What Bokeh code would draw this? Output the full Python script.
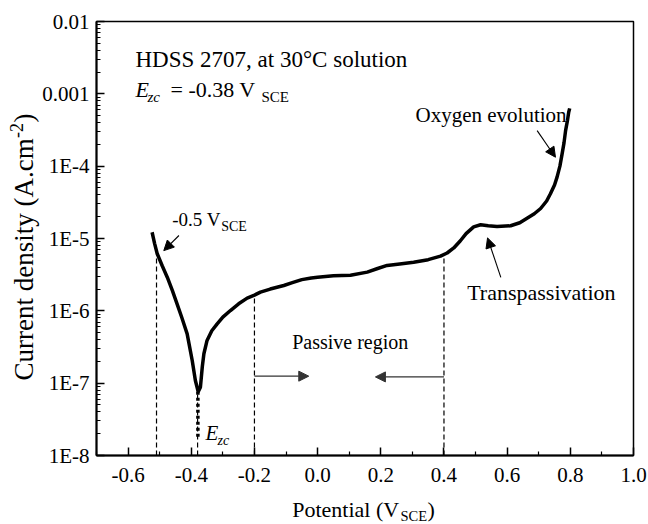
import math
from bokeh.plotting import figure
from bokeh.models import (Range1d, FixedTicker, CustomJSTickFormatter, Label, Arrow, NormalHead,
                          LinearAxis, LogAxis)
from bokeh.embed import file_html
from bokeh.resources import INLINE

# ---------------- data ----------------
potential = [-0.524, -0.516, -0.508, -0.492, -0.476, -0.460, -0.445, -0.430, -0.413, -0.397,
             -0.387, -0.378, -0.371, -0.365, -0.360, -0.350, -0.335, -0.318, -0.300, -0.276,
             -0.250, -0.223, -0.200, -0.181, -0.150, -0.107, -0.080, -0.050, -0.020, 0.000,
             0.050, 0.104, 0.157, 0.190, 0.220, 0.260, 0.304, 0.350, 0.389, 0.410,
             0.431, 0.452, 0.470, 0.494, 0.516, 0.540, 0.568, 0.611, 0.640, 0.663,
             0.686, 0.706, 0.725, 0.737, 0.750, 0.758, 0.767, 0.774, 0.780, 0.785,
             0.791, 0.795, 0.798]
current = [1.22e-5, 8.5e-6, 6.2e-6, 4.2e-6, 2.92e-6, 1.92e-6, 1.25e-6, 8.1e-7, 4.8e-7, 2.06e-7,
           1.09e-7, 7.6e-8, 8.8e-8, 1.7e-7, 2.55e-7, 3.9e-7, 5.3e-7, 6.6e-7, 8.2e-7, 1.01e-6,
           1.25e-6, 1.5e-6, 1.65e-6, 1.81e-6, 2.0e-6, 2.24e-6, 2.45e-6, 2.7e-6, 2.85e-6, 2.92e-6,
           3.05e-6, 3.1e-6, 3.43e-6, 3.85e-6, 4.24e-6, 4.45e-6, 4.7e-6, 5.1e-6, 5.7e-6, 6.3e-6,
           7.4e-6, 9.3e-6, 1.17e-5, 1.45e-5, 1.55e-5, 1.5e-5, 1.46e-5, 1.5e-5, 1.65e-5, 1.9e-5,
           2.2e-5, 2.6e-5, 3.3e-5, 4.15e-5, 5.5e-5, 7.05e-5, 1.0e-4, 1.48e-4, 2.1e-4, 3.1e-4,
           4.3e-4, 5.6e-4, 6.3e-4]

# dotted tail below the corrosion potential
dot_potential = [-0.379, -0.379]
dot_current = [7.6e-8, 1.8e-8]

# dashed guide lines (potential, upper current)
guide_potential = [-0.51, -0.38, -0.20, 0.40]
guide_top = [6.2e-6, 7.6e-8, 1.5e-6, 5.6e-6]
guide_bottom = [1e-8, 1e-8, 1e-8, 1e-8]

x_limits = [-0.7, 1.0]
y_limits = [1e-8, 1e-2]
x_ticks = [-0.6, -0.4, -0.2, 0.0, 0.2, 0.4, 0.6, 0.8, 1.0]
x_tick_labels = ["-0.6", "-0.4", "-0.2", "0.0", "0.2", "0.4", "0.6", "0.8", "1.0"]
x_minor = [-0.7, -0.5, -0.3, -0.1, 0.1, 0.3, 0.5, 0.7, 0.9]
y_ticks = [1e-8, 1e-7, 1e-6, 1e-5, 1e-4, 1e-3, 1e-2]
y_tick_labels = ["1E-8", "1E-7", "1E-6", "1E-5", "1E-4", "0.001", "0.01"]
y_minor = [m * 10.0 ** e for e in range(-8, -2) for m in range(2, 10)]

FONT = "Liberation Serif"

# ---------------- layout (pixels) ----------------
W, H = 648, 524
ML, MR, MT, MB = 96, 15, 21, 69          # margins around the plot box
box_w, box_h = W - ML - MR, H - MT - MB
xs = (x_limits[1] - x_limits[0]) / box_w  # data units per px
ly0, ly1 = math.log10(y_limits[0]), math.log10(y_limits[1])
ls = (ly1 - ly0) / box_h                  # decades per px
x_full = (x_limits[0] - ML * xs, x_limits[1] + MR * xs)
y_full = (10 ** (ly0 - MB * ls), 10 ** (ly1 + MT * ls))

p = figure(width=W, height=H, x_range=Range1d(*x_full), y_range=Range1d(*y_full),
           y_axis_type="log", x_axis_location=None, y_axis_location=None,
           output_backend="svg", toolbar_location=None, min_border=0)
p.xgrid.visible = False
p.ygrid.visible = False
p.outline_line_color = None
p.background_fill_color = "white"
p.border_fill_color = "white"

xaxis = LinearAxis(fixed_location=y_limits[0], bounds=tuple(x_limits),
                   ticker=FixedTicker(ticks=x_ticks, minor_ticks=x_minor))
yaxis = LogAxis(fixed_location=x_limits[0], bounds=tuple(y_limits),
                ticker=FixedTicker(ticks=y_ticks, minor_ticks=y_minor))
xaxis.formatter = CustomJSTickFormatter(args=dict(vals=x_ticks, labels=x_tick_labels), code="""
for (let i = 0; i < vals.length; i++) { if (Math.abs(vals[i] - tick) < 1e-9) return labels[i]; }
return "";
""")
yaxis.formatter = CustomJSTickFormatter(args=dict(vals=y_ticks, labels=y_tick_labels), code="""
const e = Math.log10(tick);
for (let i = 0; i < vals.length; i++) { if (Math.abs(Math.log10(vals[i]) - e) < 1e-6) return labels[i]; }
return "";
""")
for ax in (xaxis, yaxis):
    ax.axis_line_width = 2
    ax.axis_line_color = "black"
    ax.major_tick_in = 8
    ax.major_tick_out = 0
    ax.minor_tick_in = 4
    ax.minor_tick_out = 0
    ax.major_tick_line_width = 1.5
    ax.minor_tick_line_width = 1.2
    ax.major_tick_line_color = "black"
    ax.minor_tick_line_color = "black"
    ax.major_label_text_font = FONT
    ax.major_label_text_font_size = "21px"
    ax.major_label_text_color = "black"
xaxis.major_label_standoff = 12
yaxis.major_label_standoff = 7

# plot box (top and right edges)
p.quad(left=[x_limits[0]], right=[x_limits[1]], bottom=[y_limits[0]], top=[y_limits[1]],
       fill_color=None, line_color="black", line_width=1.5)
p.add_layout(xaxis, "below")
p.add_layout(yaxis, "left")

# dashed guides
p.segment(x0=guide_potential, y0=guide_bottom, x1=guide_potential, y1=guide_top,
          line_color="black", line_width=1.2, line_dash="5 3")
# dotted tail
p.line(dot_potential, dot_current, line_color="black", line_width=3.5, line_dash="3 3")
# polarization curve
p.line(potential, current, line_color="black", line_width=3.5, line_join="round")

# arrows
def arrow(x0, y0, x1, y1, color="black"):
    p.add_layout(Arrow(x_start=x0, y_start=y0, x_end=x1, y_end=y1, line_color=color, line_width=1.1,
                       end=NormalHead(size=10, fill_color=color, line_color=color)))

arrow(-0.439, 1.1e-5, -0.487, 6.8e-6)
arrow(0.695, 3.1e-4, 0.753, 1.33e-4)
arrow(0.580, 2.9e-6, 0.538, 1.02e-5)
arrow(-0.20, 1.25e-7, -0.028, 1.25e-7, "#333333")
arrow(0.40, 1.22e-7, 0.183, 1.22e-7, "#333333")

BASE_FIX = 0.35  # baseline correction, in em

def lab(x, y, text, size, xo=0, yo=0, style="normal", units="data", rotated=False):
    fix = BASE_FIX * size
    if rotated:
        xo, angle = xo - fix, math.pi / 2
    else:
        yo, angle = yo + fix, 0.0
    p.add_layout(Label(x=x, y=y, x_units=units, y_units=units, x_offset=xo, y_offset=yo, text=text,
                       text_font=FONT, text_font_size=f"{size}px", text_font_style=style,
                       text_color="black", text_baseline="alphabetic", text_align="left",
                       angle=angle))

lab(-0.5765, 2.33e-3, "HDSS 2707, at 30°C solution", 23)
lab(-0.5765, 9.0e-4, "E", 22, style="italic")
lab(-0.5765, 9.0e-4, "zc", 15, xo=12, yo=-5, style="italic")
lab(-0.5765, 9.0e-4, "= -0.38 V", 22, xo=35)
lab(-0.5765, 9.0e-4, "SCE", 15, xo=126, yo=-5)

lab(-0.4604, 1.47e-5, "-0.5 V", 19)
lab(-0.4604, 1.47e-5, "SCE", 14, xo=49, yo=-5)

lab(0.3099, 4.02e-4, "Oxygen evolution", 21)
lab(0.4735, 1.39e-6, "Transpassivation", 22)
lab(-0.0805, 2.99e-7, "Passive region", 20)
lab(-0.355, 1.61e-8, "E", 21, style="italic")
lab(-0.355, 1.61e-8, "zc", 14, xo=12, yo=-5, style="italic")

# axis titles (screen px from the canvas' bottom-left corner)
lab(291.7, H - 516.7, "Potential (V", 22, units="screen")
lab(400, H - 521.0, "SCE", 14.5, units="screen")
lab(427, H - 516.7, ")", 22, units="screen")
lab(33, H - 380, "Current density (A.cm", 27, units="screen", rotated=True)
lab(22, H - 137.5, "-2", 18, units="screen", rotated=True)
lab(33, H - 122, ")", 27, units="screen", rotated=True)

open("out.html", "w").write(file_html(p, INLINE))
